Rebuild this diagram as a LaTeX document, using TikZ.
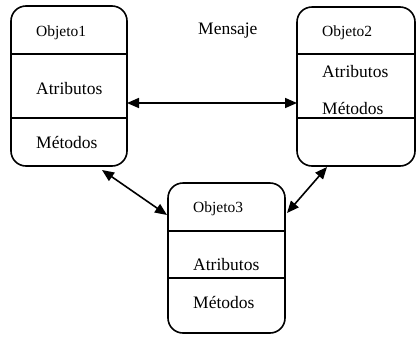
\documentclass[tikz,border=0pt]{standalone}
\usepackage{fontspec}
\setmainfont{Liberation Serif}
\usetikzlibrary{arrows.meta,calc}
\begin{document}
\begin{tikzpicture}[x=1pt,y=-1pt,
  objbox/.style={draw,line width=1.6pt,rounded corners=15pt,inner sep=0pt,outer sep=0pt},
  divider/.style={line width=1.6pt},
  small/.style={anchor=west,inner sep=0pt,font=\fontsize{15.5}{18}\selectfont},
  big/.style={anchor=west,inner sep=0pt,font=\fontsize{17.5}{20}\selectfont},
  arr/.style={line width=1.6pt,{Triangle[length=12pt,width=10pt]}-{Triangle[length=12pt,width=10pt]}}]
\useasboundingbox (0,0) rectangle (417,346);
\fill[white] (0,0) rectangle (417,346);
% boxes
\node[objbox,minimum width=116pt,minimum height=160pt] (b1) at (69,86) {};
\node[objbox,minimum width=118pt,minimum height=159pt] (b2) at (356,86.5) {};
\node[objbox,minimum width=117pt,minimum height=150pt] (b3) at (226.5,258) {};
% dividers
\draw[divider] (b1.west |- 0,54) -- (b1.east |- 0,54);
\draw[divider] (b1.west |- 0,118) -- (b1.east |- 0,118);
\draw[divider] (b2.west |- 0,54) -- (b2.east |- 0,54);
\draw[divider] (b2.west |- 0,118) -- (b2.east |- 0,118);
\draw[divider] (b3.west |- 0,231) -- (b3.east |- 0,231);
\draw[divider] (b3.west |- 0,278) -- (b3.east |- 0,278);
% texts
\node[small] (o1) at (36,33) {Objeto1};
\node[big] (a1) at (36,89) {Atributos};
\node[big] (m1) at (36,142) {Métodos};
\node[small] (o2) at (322,33) {Objeto2};
\node[big] (a2) at (322,72) {Atributos};
\node[big] (m2) at (322,108) {Métodos};
\node[small] (o3) at (193,209) {Objeto3};
\node[big] (a3) at (193,265) {Atributos};
\node[big] (m3) at (193,302) {Métodos};
\node[big] (msg) at (198,31) {Mensaje};
% connectors
\coordinate (h) at (0,103);
\draw[arr] (b1.east |- h) -- (b2.west |- h);
\draw[arr] ($(b1.south east)+(-25,4)$) -- ($(b3.north west)+(-1,32)$);
\draw[arr] ($(b2.south west)+(30,1)$) -- ($(b3.north east)+(2,30)$);
\end{tikzpicture}
\end{document}
